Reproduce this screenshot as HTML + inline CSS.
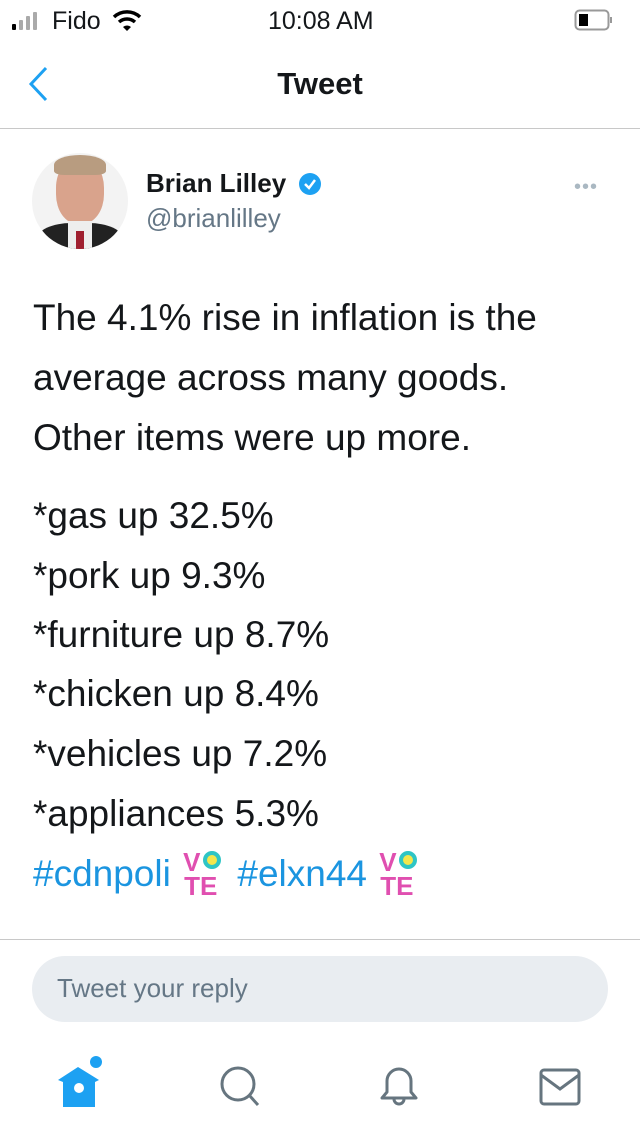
<!DOCTYPE html>
<html><head><meta charset="utf-8"><style>
*{margin:0;padding:0;box-sizing:border-box}
body{width:640px;height:1136px;background:#fff;font-family:"Liberation Sans",sans-serif;position:relative;overflow:hidden;color:#14171a}
.a{position:absolute}
.t{position:absolute;left:33px;font-size:37px;line-height:60px;letter-spacing:0px;white-space:nowrap}
.v{display:inline-block;width:46px;height:50px;vertical-align:middle;position:relative}
.v .l{position:absolute;font:bold 26px 'Liberation Sans';color:#e04fb0;letter-spacing:0;line-height:26px}
</style></head><body>
<div class="a" style="left:0;top:0;width:640px;height:40px">
 <svg class="a" style="left:10px;top:12px" width="40" height="20"><rect x="2" y="12" width="4" height="6" rx="1" fill="#000"/><rect x="9" y="8" width="4" height="10" rx="1" fill="#aaa"/><rect x="16" y="4" width="4" height="14" rx="1" fill="#aaa"/><rect x="23" y="0" width="4" height="18" rx="1" fill="#aaa"/></svg>
 <div class="a" style="left:52px;top:7px;font-size:25px">Fido</div>
 <svg class="a" style="left:112px;top:9px" width="30" height="22"><path d="M2 8 A19 19 0 0 1 28 8" stroke="#000" stroke-width="3.5" fill="none"/><path d="M7 13 A12 12 0 0 1 23 13" stroke="#000" stroke-width="3.5" fill="none"/><path d="M11 18 L15 22 L19 18 A6 6 0 0 0 11 18Z" fill="#000"/></svg>
 <div class="a" style="left:268px;top:7px;font-size:25px">10:08 AM</div>
 <svg class="a" style="left:574px;top:9px" width="40" height="24"><rect x="1.5" y="1.5" width="33" height="19" rx="4" stroke="#999" stroke-width="2" fill="none"/><rect x="5" y="5" width="9" height="12" fill="#000"/><rect x="36" y="8" width="2" height="6" fill="#999"/></svg>
</div>
<svg class="a" style="left:26px;top:66px" width="24" height="36"><path d="M20 2 L5 18 L20 34" stroke="#1da1f2" stroke-width="3" fill="none"/></svg>
<div class="a" style="left:0;width:640px;top:66px;text-align:center;font-size:31px;font-weight:bold">Tweet</div>
<div class="a" style="left:0;top:128px;width:640px;height:1px;background:#c8c8c8"></div>
<div class="a" style="left:32px;top:153px;width:96px;height:96px;border-radius:50%;background:#f3f3f3;overflow:hidden">
 <div class="a" style="left:24px;top:5px;width:48px;height:66px;border-radius:45%;background:#d9a38c"></div>
 <div class="a" style="left:22px;top:2px;width:52px;height:20px;border-radius:50% 50% 20% 20%;background:#b89c80"></div>
 <div class="a" style="left:5px;top:70px;width:86px;height:40px;border-radius:40% 40% 0 0;background:#222"></div>
 <div class="a" style="left:36px;top:68px;width:24px;height:30px;background:#eee"></div>
 <div class="a" style="left:44px;top:78px;width:8px;height:20px;background:#a02030"></div>
</div>
<div class="a" style="left:146px;top:168px;font-size:26px;font-weight:bold">Brian Lilley</div>
<svg class="a" style="left:298px;top:172px" width="24" height="24"><circle cx="12" cy="12" r="11" fill="#1da1f2"/><path d="M7 12 L11 16 L17 8" stroke="#fff" stroke-width="2.5" fill="none"/></svg>
<div class="a" style="left:146px;top:203px;font-size:26px;color:#657786">@brianlilley</div>
<div class="a" style="left:574px;top:176px;font-size:20px;color:#aab8c2;letter-spacing:1px">•••</div>
<div>
<div class="t" style="top:288px">The 4.1% rise in inflation is the</div>
<div class="t" style="top:348px">average across many goods.</div>
<div class="t" style="top:408px">Other items were up more.</div>
<div class="t" style="top:486px">*gas up 32.5%</div>
<div class="t" style="top:546px">*pork up 9.3%</div>
<div class="t" style="top:605px">*furniture up 8.7%</div>
<div class="t" style="top:664px">*chicken up 8.4%</div>
<div class="t" style="top:724px">*vehicles up 7.2%</div>
<div class="t" style="top:784px">*appliances 5.3%</div>
<div class="t" style="top:844px;color:#1b95e0"><span>#cdnpoli</span> <span class="v"><span class="l" style="left:2px;top:-2px">V</span><span class="a" style="left:22px;top:0px;width:18px;height:18px;border:4px solid #2ec5c5;border-radius:50%;background:#f3e64c"></span><span class="l" style="left:3px;top:22px">TE</span></span> <span>#elxn44</span> <span class="v"><span class="l" style="left:2px;top:-2px">V</span><span class="a" style="left:22px;top:0px;width:18px;height:18px;border:4px solid #2ec5c5;border-radius:50%;background:#f3e64c"></span><span class="l" style="left:3px;top:22px">TE</span></span></div>
</div>
<div class="a" style="left:0;top:939px;width:640px;height:1px;background:#c8c8c8"></div>
<div class="a" style="left:32px;top:956px;width:576px;height:66px;border-radius:33px;background:#e9edf1;font-size:26px;color:#657786;padding:17px 0 0 25px">Tweet your reply</div>
<svg class="a" style="left:56px;top:1055px" width="50" height="56"><circle cx="40" cy="7" r="6" fill="#1da1f2"/><path d="M2 25 L22 12 L43 25 L39 27 V52 H7 V27Z" fill="#1da1f2"/><circle cx="23" cy="33" r="5" fill="#fff"/></svg>
<svg class="a" style="left:218px;top:1064px" width="46" height="46"><circle cx="20" cy="20" r="16" stroke="#66757f" stroke-width="3" fill="none"/><path d="M31 31 L40 41" stroke="#66757f" stroke-width="3"/></svg>
<svg class="a" style="left:378px;top:1064px" width="46" height="46"><path d="M4 34 L9 28 V17 A12 12 0 0 1 33 17 V28 L38 34Z" stroke="#66757f" stroke-width="3" fill="none" stroke-linejoin="round"/><path d="M16 35 A5 5 0 0 0 26 35" stroke="#66757f" stroke-width="3" fill="none"/></svg>
<svg class="a" style="left:538px;top:1067px" width="46" height="42"><rect x="3" y="3" width="38" height="34" rx="3" stroke="#66757f" stroke-width="3" fill="none"/><path d="M3 8 L22 22 L41 8" stroke="#66757f" stroke-width="3" fill="none"/></svg>
</body></html>
